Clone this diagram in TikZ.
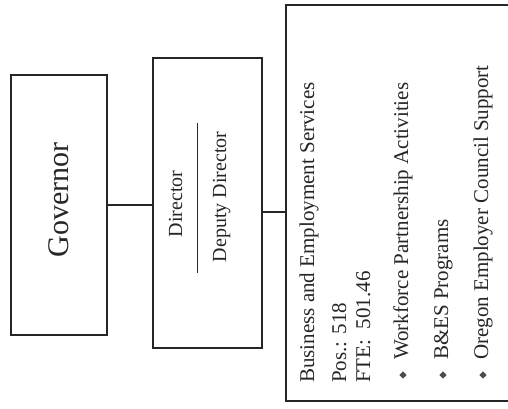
\documentclass[tikz,border=0pt]{standalone}
\usepackage{fontspec}
\setmainfont{Liberation Serif}
\usetikzlibrary{shapes.geometric}
\begin{document}
\begin{tikzpicture}[x=1pt,y=-1pt,
  box/.style={draw=black!85,line width=1.2pt,minimum width=#1,inner sep=0pt},
  conn/.style={draw=black!85,line width=1.2pt},
  rtext/.style={rotate=90,anchor=base west,inner sep=0pt,text=black!85,font=\fontsize{21}{25}\selectfont},
  bul/.style={diamond,fill=black!70,inner sep=0pt,minimum size=7.5pt}]
\useasboundingbox[fill=white] (0,0) rectangle (508,409);
% boxes
\node[box=96pt,minimum height=260pt] (gov) at (59,205) {};
\node[box=109pt,minimum height=290pt] (dir) at (207.5,203) {};
\node[box=240pt,minimum height=396pt] (bes) at (406,203) {};
% governor
\node[rotate=90,inner sep=0pt,text=black!85,font=\fontsize{30}{36}\selectfont,anchor=base] (govt) at (68,200) {Governor};
% director
\node[rotate=90,inner sep=0pt,text=black!85,font=\fontsize{20}{24}\selectfont,anchor=base] (dirt) at (182,204) {Director};
\node[rotate=90,inner sep=0pt,text=black!85,font=\fontsize{20}{24}\selectfont,anchor=base] (dept) at (226,197) {Deputy Director};
\coordinate (sepa) at (197,123);
\coordinate (sepb) at (197,273);
\draw[conn,line width=1pt] (sepa) -- (sepb);
% connectors
\draw[conn] (gov.east) -- (gov.east -| dir.west);
\draw[conn] ([yshift=-9pt]dir.east) -- ([yshift=-9pt]dir.east -| bes.west);
% right box text
\node[rtext] (t1) at (314,383) {Business and Employment Services};
\node[rtext] (t2) at (346,383) {Pos.: 518};
\node[rtext] (t3) at (370,383) {FTE:\ \ 501.46};
\node[rtext] (t4) at (408,360) {Workforce Partnership Activities};
\node[rtext] (t5) at (448,360) {B\&ES Programs};
\node[rtext] (t6) at (488,360) {Oregon Employer Council Support};
\node[bul] (b1) at (403,375) {};
\node[bul] (b2) at (443,375) {};
\node[bul] (b3) at (483,375) {};
\end{tikzpicture}
\end{document}
